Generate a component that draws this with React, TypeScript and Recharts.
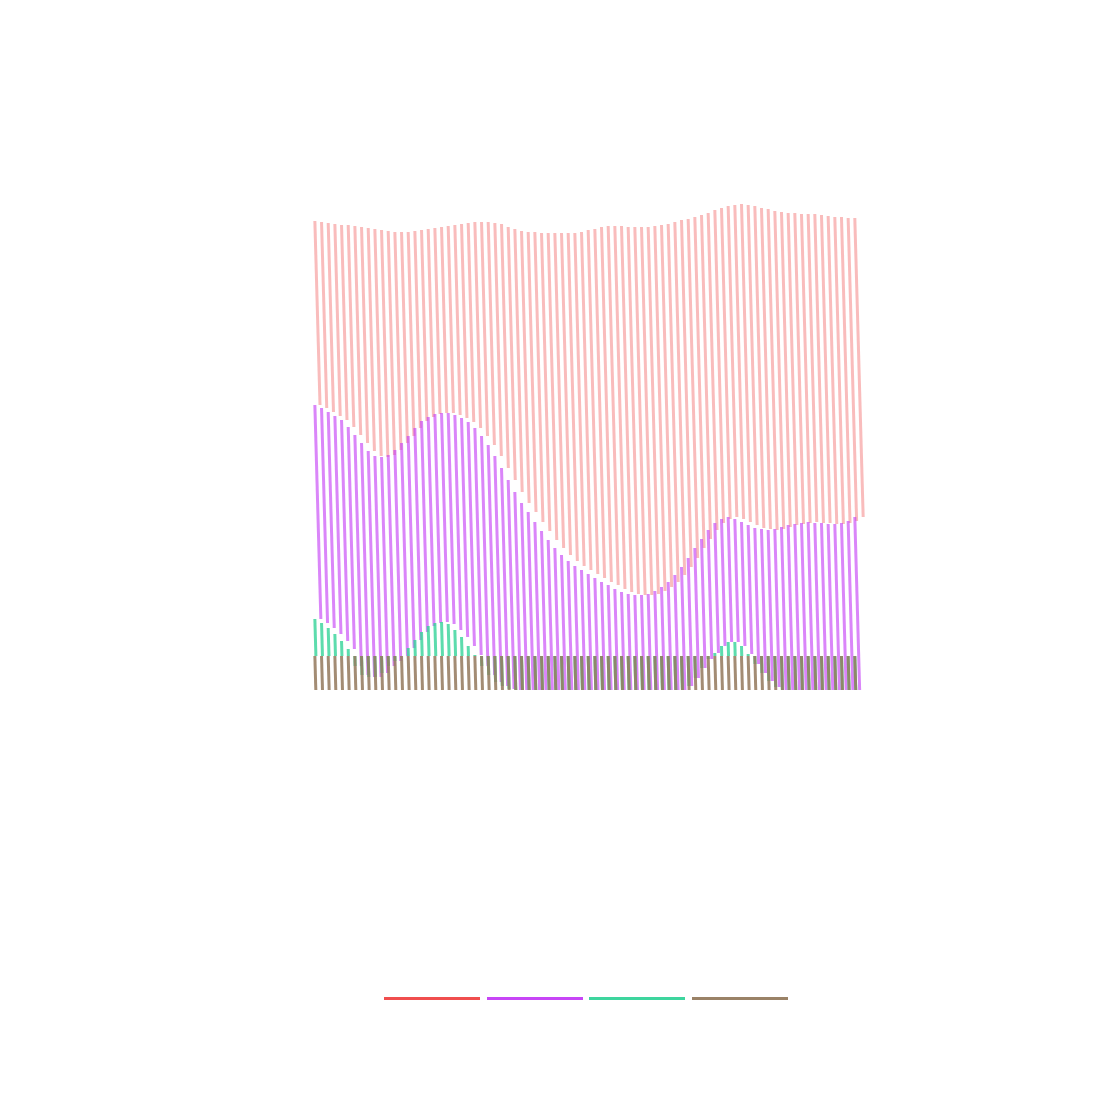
import { BarChart, Bar, XAxis, YAxis, Legend } from 'recharts';

// four stacked series, one stripe per sample (82 samples); stack order is reversed so brown sits at the bottom
const samples = [
  1, 2, 3, 4, 5, 6, 7, 8, 9, 10, 11, 12, 13, 14, 15, 16, 17, 18, 19, 20,
  21, 22, 23, 24, 25, 26, 27, 28, 29, 30, 31, 32, 33, 34, 35, 36, 37, 38, 39, 40,
  41, 42, 43, 44, 45, 46, 47, 48, 49, 50, 51, 52, 53, 54, 55, 56, 57, 58, 59, 60,
  61, 62, 63, 64, 65, 66, 67, 68, 69, 70, 71, 72, 73, 74, 75, 76, 77, 78, 79, 80,
  81, 82,
];

const red = [
  184, 186, 189, 192, 195, 202, 209, 216, 223, 227,
  227, 224, 218, 211, 204, 197, 191, 188, 186, 186,
  187, 190, 194, 199, 206, 214, 223, 233, 244, 253,
  263, 272, 280, 290, 298, 307, 315, 322, 328, 333,
  338, 344, 349, 355, 359, 363, 366, 367, 368, 368,
  367, 365, 362, 358, 353, 347, 339, 331, 324, 317,
  313, 311, 311, 314, 318, 320, 322, 321, 321, 318,
  315, 312, 311, 309, 308, 309, 308, 308, 307, 306,
  303, 299,
];

const purple = [
  214, 215, 216, 218, 221, 222, 231, 232, 226, 221,
  216, 211, 211, 213, 212, 212, 211, 209, 209, 209,
  211, 215, 219, 224, 227, 230, 230, 226, 218, 209,
  198, 187, 178, 168, 159, 150, 142, 135, 129, 124,
  120, 116, 112, 108, 105, 101, 98, 96, 95, 95,
  96, 99, 103, 108, 115, 123, 128, 130, 129, 129,
  130, 127, 125, 123, 124, 129, 136, 144, 151, 158,
  163, 165, 166, 167, 168, 167, 167, 166, 166, 167,
  169, 173,
];

const green = [
  37, 33, 28, 22, 15, 7, -10, -19, -21, -21,
  -17, -10, -5, 0, 8, 16, 24, 30, 33, 34,
  32, 26, 19, 10, 1, -10, -19, -26, -30, -33,
  -34, -34, -34, -34, -34, -34, -34, -34, -34, -34,
  -34, -34, -34, -34, -34, -34, -34, -34, -34, -34,
  -34, -34, -34, -34, -34, -34, -30, -22, -12, -3,
  3, 10, 14, 14, 10, 2, -8, -17, -25, -31,
  -34, -34, -34, -34, -34, -34, -34, -34, -34, -34,
  -34, -34,
];

const brown = [
  34, 34, 34, 34, 34, 34, 34, 34, 34, 34,
  34, 34, 34, 34, 34, 34, 34, 34, 34, 34,
  34, 34, 34, 34, 34, 34, 34, 34, 34, 34,
  34, 34, 34, 34, 34, 34, 34, 34, 34, 34,
  34, 34, 34, 34, 34, 34, 34, 34, 34, 34,
  34, 34, 34, 34, 34, 34, 34, 34, 34, 34,
  34, 34, 34, 34, 34, 34, 34, 34, 34, 34,
  34, 34, 34, 34, 34, 34, 34, 34, 34, 34,
  34, 34,
];

const data = samples.map((s, i) => ({
  s,
  red: red[i],
  purple: purple[i],
  green: green[i],
  brown: brown[i],
}));

const SLANT = 0.028;
const STRIPE_W = 3;

// each segment is drawn as a thin stroke, leaning right from its top end
const stripe = (opacity: number) => (props: any) => {
  const { x, y, width, height, fill } = props;
  if (!height || !isFinite(height)) return <g />;
  const top = Math.min(y, y + height);
  const h = Math.abs(height);
  const cx = x + width / 2;
  const d = SLANT * h;
  const half = STRIPE_W / 2;
  const pts = `${cx - half},${top} ${cx + half},${top} ${cx + half + d},${top + h} ${cx - half + d},${top + h}`;
  return <polygon points={pts} fill={fill} fillOpacity={opacity} />;
};

// payload comes back in stack order (brown first), legend reads red -> brown
const LegendLines = ({ payload }: any) => (
  <div style={{ display: 'flex', gap: 6.6 }}>
    {[...(payload || [])].reverse().map((entry: any, index: number) => (
      <div key={index} style={{ width: 96, height: 3, background: entry.color, opacity: 0.95 }} />
    ))}
  </div>
);

export default function App() {
  return (
    <BarChart
      width={1098}
      height={1096}
      data={data}
      margin={{ top: 182, right: 247.7, bottom: 414, left: 303.7 }}
      barCategoryGap="10%"
      reverseStackOrder
    >
      <XAxis dataKey="s" hide />
      <YAxis type="number" domain={[0, 500]} hide />
      <Legend
        verticalAlign="middle"
        align="center"
        content={<LegendLines />}
        wrapperStyle={{ left: 376, top: 988.5, width: 410 }}
      />
      <Bar dataKey="red" stackId="a" fill="#ef4444" shape={stripe(0.36)} isAnimationActive={false} />
      <Bar dataKey="purple" stackId="a" fill="#c43cf5" shape={stripe(0.62)} isAnimationActive={false} />
      <Bar dataKey="green" stackId="a" fill="#34d399" shape={stripe(0.8)} isAnimationActive={false} />
      <Bar dataKey="brown" stackId="a" fill="#957b5f" shape={stripe(0.87)} isAnimationActive={false} />
    </BarChart>
  );
}
